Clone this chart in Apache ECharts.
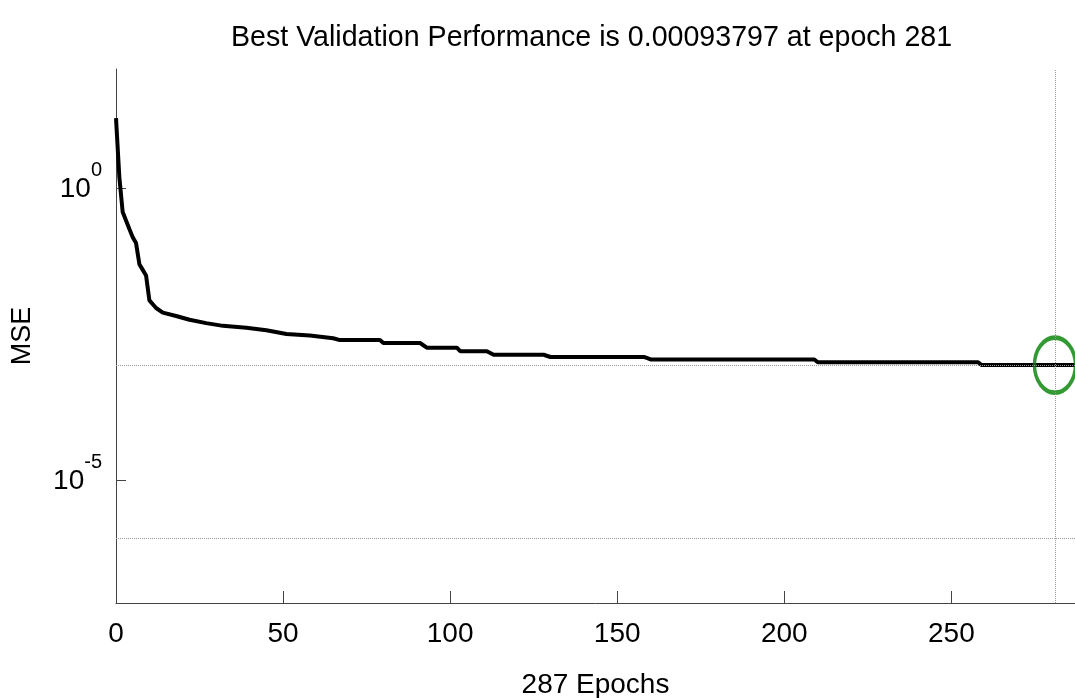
<!DOCTYPE html>
<html>
<head>
<meta charset="utf-8">
<script src="https://cdn.jsdelivr.net/npm/echarts@6/dist/echarts.min.js"></script>
<style>html,body{margin:0;padding:0;background:#fff}#c{width:1075px;height:698px}</style>
</head>
<body>
<div id="c"></div>
<script>
// ---- data ----
const titleText = 'Best Validation Performance is 0.00093797 at epoch 281';
const xName = '287 Epochs';
const yName = 'MSE';
const epochs = [0, 1, 2, 4, 5, 6, 7, 8, 9, 10, 12, 14, 18, 22, 27, 32, 39, 45, 51, 58, 65, 67, 79, 80, 91, 93, 102, 103, 111, 113, 128, 130, 158, 160, 209, 210, 258, 259, 287];
const mse = [15.8, 1.55, 0.39, 0.2, 0.145, 0.115, 0.05, 0.04, 0.032, 0.012, 0.0089, 0.0074, 0.0065, 0.0056, 0.0049, 0.0044, 0.0041, 0.0037, 0.0032, 0.0030, 0.0027, 0.00251, 0.00251, 0.00224, 0.00224, 0.00186, 0.00186, 0.00162, 0.00162, 0.00141, 0.00141, 0.00129, 0.00129, 0.00117, 0.00117, 0.00105, 0.00105, 0.00094, 0.00094];
const bestEpoch = 281;
const bestPerf = 0.00093797;
const goal = 1e-6;
const xTicks = [0, 50, 100, 150, 200, 250];
const yTickValues = [1e-5, 1];
const xMax = 287;
const yMin = Math.pow(10, -7.1);
const yMax = Math.pow(10, 2.04);

const chart = echarts.init(document.getElementById('c'));
const font = 'Liberation Sans, Arial, sans-serif';
const lineData = epochs.map((e, i) => [e, mse[i]]);

chart.setOption({
  animation: false,
  backgroundColor: '#fff',
  title: {
    text: titleText,
    left: 226, top: 19,
    textStyle: {fontFamily: font, fontSize: 28.6, fontWeight: 'normal', color: '#000'}
  },
  grid: {left: 116, right: 0, top: 69, bottom: 95, containLabel: false, outerBoundsMode: 'none'},
  xAxis: {
    type: 'value', min: 0, max: xMax, interval: 50,
    name: xName, nameLocation: 'middle', nameGap: 68,
    nameTextStyle: {fontFamily: font, fontSize: 28, color: '#000'},
    axisLine: {show: true, lineStyle: {color: '#444', width: 1}},
    axisTick: {show: true, inside: true, length: 12, lineStyle: {color: '#444'}, customValues: xTicks},
    axisLabel: {fontFamily: font, fontSize: 28, color: '#000', margin: 17, customValues: xTicks},
    splitLine: {show: false}
  },
  yAxis: {
    type: 'log', logBase: 10, min: yMin, max: yMax,
    name: yName, nameLocation: 'middle', nameGap: 80, nameRotate: 90,
    nameTextStyle: {fontFamily: font, fontSize: 27, color: '#000'},
    axisLine: {show: true, lineStyle: {color: '#444', width: 1}},
    axisTick: {show: true, inside: true, length: 10, lineStyle: {color: '#444'}, customValues: yTickValues},
    axisLabel: {
      customValues: yTickValues,
      margin: 14,
      formatter: v => '{b|10}{s|' + Math.round(Math.log10(v)) + '}',
      rich: {
        b: {fontFamily: font, fontSize: 28, color: '#000', verticalAlign: 'bottom', lineHeight: 30},
        s: {fontFamily: font, fontSize: 20, color: '#000', verticalAlign: 'bottom', lineHeight: 20, padding: [0, 0, 23, 0]}
      }
    },
    splitLine: {show: false}
  },
  series: [
    {
      type: 'line', data: lineData, symbol: 'none', clip: false,
      lineStyle: {color: '#000', width: 4},
      markLine: {
        silent: true, symbol: 'none', label: {show: false},
        lineStyle: {color: '#999', type: 'dotted', width: 1},
        data: [
          [{coord: [0, bestPerf]}, {coord: [xMax, bestPerf]}],
          [{coord: [0, goal]}, {coord: [xMax, goal]}],
          [{coord: [bestEpoch, yMin]}, {coord: [bestEpoch, yMax]}]
        ]
      }
    },
    {
      type: 'scatter', data: [[bestEpoch, bestPerf]], clip: false, z: 3,
      symbol: 'circle', symbolSize: [41, 55],
      itemStyle: {color: 'rgba(0,0,0,0)', borderColor: '#008000', borderWidth: 4}
    }
  ]
});
</script>
</body>
</html>
